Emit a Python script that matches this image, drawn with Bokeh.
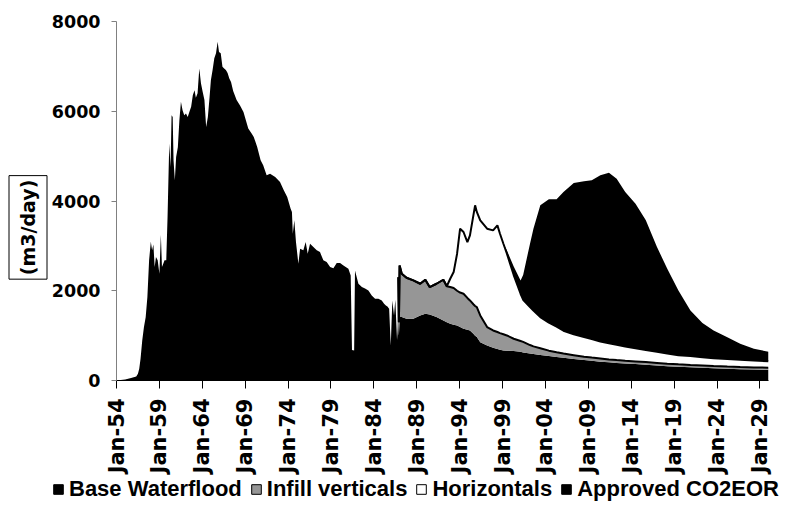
from math import pi
from bokeh.plotting import figure
from bokeh.layouts import row, column
from bokeh.models import ColumnDataSource, FixedTicker, Label, Legend, LegendItem, Range1d
from bokeh.transform import stack
from bokeh.embed import file_html
from bokeh.resources import INLINE

# ---------------- data ----------------
hist_years = [1954.0, 1955.0, 1955.7, 1956.3, 1956.5, 1956.65, 1956.8, 1957.0, 1957.2, 1957.4,
              1957.6, 1957.8, 1958.0, 1958.15, 1958.3, 1958.45, 1958.6, 1958.8, 1959.0, 1959.17,
              1959.3, 1959.45, 1959.6, 1959.8, 1959.95, 1960.15, 1960.3, 1960.42, 1960.55, 1960.65,
              1960.8, 1960.95, 1961.15, 1961.33, 1961.51, 1961.7, 1961.9, 1962.1, 1962.3, 1962.5,
              1962.7, 1962.9, 1963.1, 1963.25, 1963.45, 1963.65, 1963.85, 1964.05, 1964.25, 1964.45,
              1964.65, 1964.85, 1965.0, 1965.2, 1965.4, 1965.6, 1965.79, 1965.95, 1966.15, 1966.35,
              1966.55, 1966.75, 1966.95, 1967.15, 1967.35, 1967.6, 1968.0, 1968.4, 1968.8, 1969.36,
              1969.75, 1970.0, 1970.4, 1970.8, 1971.1, 1971.5, 1971.9, 1972.5, 1973.06, 1973.5,
              1973.9, 1974.3, 1974.45, 1974.55, 1974.73, 1974.92, 1975.2, 1975.4, 1975.78, 1976.05,
              1976.29, 1976.56, 1976.95, 1977.34, 1977.72, 1978.11, 1978.5, 1978.9, 1979.28, 1979.67,
              1980.06, 1980.45, 1981.03, 1981.3, 1981.45, 1981.7, 1981.8, 1982.2, 1982.6, 1982.97,
              1983.36, 1983.75, 1984.14, 1984.53, 1984.92, 1985.19, 1985.4, 1985.58, 1985.78, 1985.97,
              1986.15, 1986.35, 1986.5, 1986.7]
hist_base = [0, 20, 55, 90, 150, 260, 480, 890, 1190, 1410,
             1860, 2680, 3090, 2900, 3030, 2530, 2750, 2680, 2380, 3250,
             2530, 2600, 2680, 2680, 3640, 5280, 4760, 5910, 5870, 4910,
             4460, 4980, 5200, 5800, 6210, 6020, 5910, 5950, 5870, 5990,
             6100, 6360, 6470, 6300, 6400, 6950, 6620, 6430, 6250, 5650,
             5870, 6320, 6690, 6920, 7180, 7290, 7550, 7320, 7290, 6990,
             6950, 6920, 6850, 6730, 6650, 6450, 6250, 6130, 5985, 5613,
             5502, 5428, 5205, 4907, 4795, 4573, 4610, 4535, 4424, 4238,
             4089, 3829, 3755, 3271, 3569, 3085, 2602, 2937, 2900, 3085,
             2825, 3048, 2974, 2900, 2862, 2677, 2640, 2528, 2500, 2617,
             2617, 2560, 2491, 2342, 680, 669, 2454, 2156, 2082, 2050,
             2007, 1896, 1822, 1822, 1784, 1710, 1670, 1651, 1599, 781,
             1784, 1450, 1800, 900]

proj_years = [1986.85, 1986.92, 1987.0, 1987.25, 1987.8, 1988.6, 1989.4, 1990.0, 1990.5, 1991.3,
              1992.1, 1992.5, 1992.9, 1993.3, 1993.7, 1994.05, 1994.45, 1994.9, 1995.2, 1995.6,
              1995.8, 1996.0, 1996.4, 1997.2, 1997.9, 1998.4, 1998.7, 1999.1, 1999.5, 2000.3,
              2001.1, 2001.4, 2002.2, 2002.6, 2003.4, 2004.4, 2005.3, 2006.1, 2007.3, 2008.5,
              2009.4, 2010.4, 2011.4, 2012.3, 2013.3, 2014.5, 2015.7, 2017.0, 2018.2, 2019.5,
              2020.9, 2022.3, 2023.6, 2025.2, 2026.7, 2028.3, 2030.0]
proj_base = [1400, 1000, 1413, 1413, 1375, 1375, 1450, 1487, 1472, 1413,
             1338, 1300, 1264, 1245, 1227, 1190, 1152, 1130, 1115, 1040,
             1000, 967, 855, 781, 729, 700, 684, 670, 662, 655,
             640, 625, 600, 590, 570, 545, 525, 505, 480, 455,
             440, 420, 405, 392, 380, 365, 350, 335, 320, 308,
             295, 283, 272, 262, 253, 245, 238]
proj_infill = [900, 300, 1152, 966, 915, 855, 706, 758, 610, 743,
               907, 800, 818, 815, 773, 770, 781, 710, 669, 660,
               660, 669, 595, 409, 386, 380, 372, 360, 342, 275,
               240, 235, 190, 170, 150, 120, 105, 95, 85, 75,
               70, 70, 65, 63, 60, 60, 60, 57, 55, 52,
               52, 52, 50, 48, 47, 47, 47]
proj_horiz = [0, 0, 0, 0, 0, 0, 0, 0, 0, 0,
              0, 0, 186, 356, 825, 1423, 1376, 1245, 1450, 1980,
              2243, 2119, 2119, 2193, 2231, 2377, 2215, 2018, 1826, 1420,
              1053, 940, 846, 800, 693, 625, 570, 510, 465, 440,
              415, 380, 360, 340, 320, 295, 270, 248, 225, 205,
              198, 185, 175, 168, 160, 153, 145]
proj_co2 = [0, 0, 0, 0, 0, 0, 0, 0, 0, 0,
            0, 0, 0, 0, 0, 0, 0, 0, 0, 0,
            0, 0, 0, 0, 0, 0, 0, 0, 70, 190,
            297, 550, 1412, 1823, 2490, 2747, 2837, 3090, 3371, 3469,
            3536, 3703, 3802, 3703, 3440, 3221, 2889, 2334, 1891, 1442,
            1016, 759, 618, 488, 358, 261, 210]

series_names = ["Base Waterflood", "Infill verticals", "Horizontals", "Approved CO2EOR"]
series_colors = ["black", "#969696", "white", "black"]
tick_years = [1954, 1959, 1964, 1969, 1974, 1979, 1984, 1989, 1994, 1999, 2004, 2009, 2014, 2019, 2024, 2029]
tick_labels = ["Jan-54", "Jan-59", "Jan-64", "Jan-69", "Jan-74", "Jan-79", "Jan-84", "Jan-89",
               "Jan-94", "Jan-99", "Jan-04", "Jan-09", "Jan-14", "Jan-19", "Jan-24", "Jan-29"]
y_ticks = [0, 2000, 4000, 6000, 8000]
y_title = "(m3/day)"

# ---------------- sources ----------------
zeros = [0] * len(hist_years)
src = ColumnDataSource(dict(year=hist_years + proj_years,
                            base=hist_base + proj_base,
                            infill=zeros + proj_infill,
                            horiz=zeros + proj_horiz,
                            co2=zeros + proj_co2))
proj_src = ColumnDataSource(dict(year=proj_years, base=proj_base,
                                 infill=proj_infill, horiz=proj_horiz))

# ---------------- layout sizes ----------------
LAB_W = 48          # left strip holding the boxed y title
MAIN_W = 732        # main chart
MAIN_H = 476
LEG_H = 30

# ---------------- main figure ----------------
p = figure(width=MAIN_W, height=MAIN_H, x_range=(1954, 2030), y_range=(0, 8000),
           output_backend="svg", toolbar_location=None,
           min_border_left=68, min_border_right=12, min_border_top=21,
           min_border_bottom=MAIN_H - 380)

p.varea_stack(stackers=["base", "infill", "horiz", "co2"], x="year",
              color=series_colors, source=src)
p.line(x="year", y=stack("base", "infill"), source=proj_src, line_color="black", line_width=2)
p.line(x="year", y=stack("base", "infill", "horiz"), source=proj_src, line_color="black", line_width=2)

p.xaxis.ticker = FixedTicker(ticks=tick_years)
p.xaxis.major_label_overrides = {t: l for t, l in zip(tick_years, tick_labels)}
p.xaxis.major_label_orientation = pi / 2
p.xaxis.major_label_text_font = "DejaVu Sans"
p.xaxis.major_label_text_font_style = "bold"
p.xaxis.major_label_text_font_size = "21px"
p.xaxis.major_label_text_color = "black"
p.xaxis.major_label_standoff = 10
p.xaxis.major_tick_out = 8
p.xaxis.major_tick_in = 0
p.xaxis.minor_tick_line_color = None
p.xaxis.axis_line_color = "black"
p.xaxis.major_tick_line_color = "black"

p.yaxis.ticker = FixedTicker(ticks=y_ticks)
p.yaxis.major_label_text_font = "DejaVu Sans"
p.yaxis.major_label_text_font_style = "bold"
p.yaxis.major_label_text_font_size = "17.5px"
p.yaxis.major_label_text_color = "black"
p.yaxis.major_tick_out = 5
p.yaxis.major_tick_in = 0
p.yaxis.minor_tick_line_color = None
p.yaxis.axis_line_color = "#808080"
p.yaxis.major_tick_line_color = "#808080"
p.yaxis.major_label_standoff = 11

p.grid.visible = False
p.outline_line_color = None

# ---------------- left strip: boxed y title ----------------
lab = figure(width=LAB_W, height=MAIN_H, x_range=Range1d(0, LAB_W), y_range=Range1d(0, MAIN_H),
             x_axis_type=None, y_axis_type=None, output_backend="svg", toolbar_location=None,
             min_border=0, min_border_left=0, min_border_right=0, min_border_top=0, min_border_bottom=0)
lab.outline_line_color = None
lab.add_layout(Label(x=27.5, y=203, text=y_title, angle=pi / 2,
                     text_align="center", text_baseline="middle",
                     text_font="DejaVu Sans", text_font_style="bold", text_font_size="19px",
                     text_color="black",
                     border_line_color="black", border_line_width=1, padding=(4, 8)))

# ---------------- bottom strip: legend ----------------
leg = figure(width=LAB_W + MAIN_W, height=LEG_H, x_range=Range1d(0, 1), y_range=Range1d(0, 1),
             x_axis_type=None, y_axis_type=None, output_backend="svg", toolbar_location=None,
             min_border=0, min_border_left=0, min_border_right=0, min_border_top=0, min_border_bottom=0)
leg.outline_line_color = None
items = []
for name, col in zip(series_names, series_colors):
    r = leg.quad(left=[5], right=[6], bottom=[5], top=[6], fill_color=col, line_color="black")
    items.append(LegendItem(label=name, renderers=[r]))
legend = Legend(items=items, orientation="horizontal", location=(52, 4),
                label_text_font="Liberation Sans", label_text_font_style="bold",
                label_text_font_size="22px", label_text_color="black", label_height=22,
                glyph_width=12, glyph_height=12,
                label_standoff=5, spacing=8, padding=0, margin=0,
                border_line_color=None, background_fill_alpha=0)
leg.add_layout(legend, "center")

layout = column(row(lab, p), leg)
open("out.html", "w").write(file_html(layout, INLINE))
